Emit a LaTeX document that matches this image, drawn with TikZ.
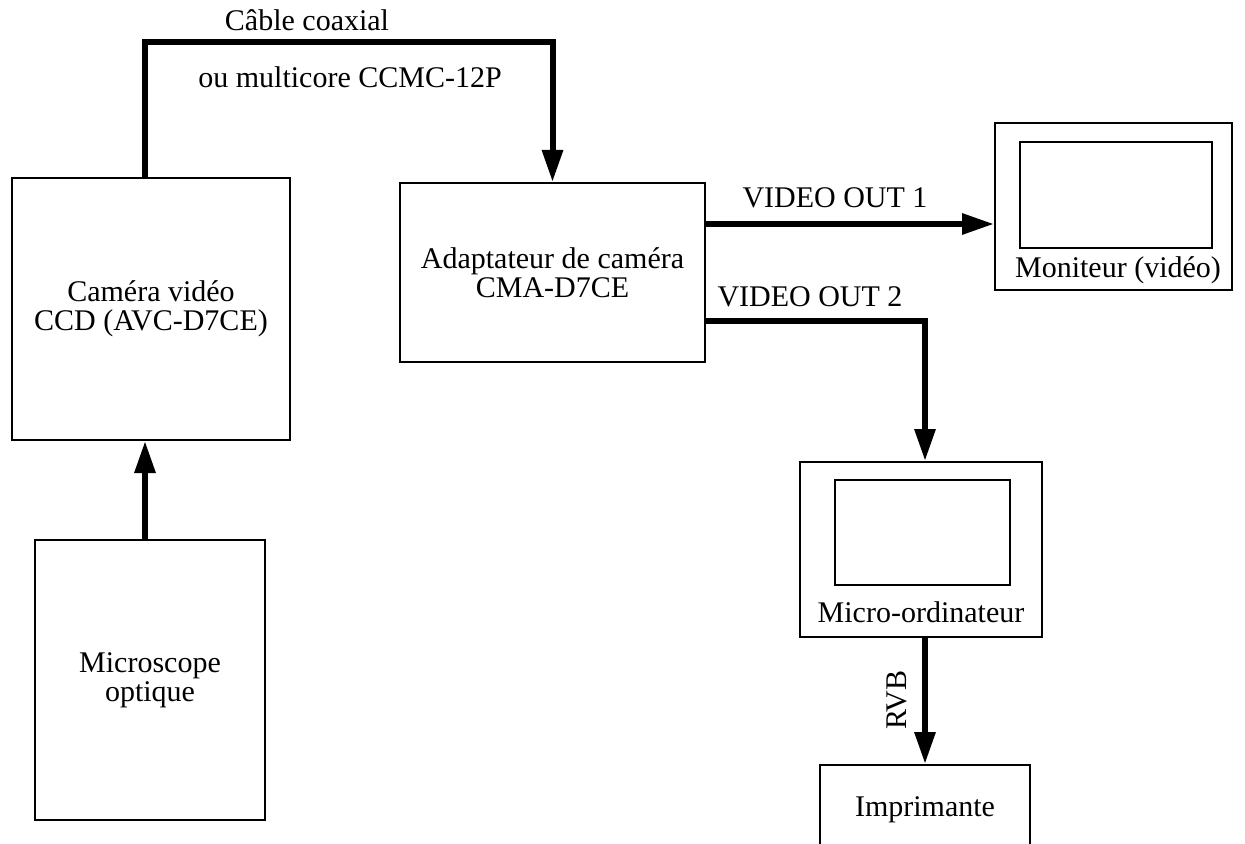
\documentclass[tikz,border=0pt]{standalone}
\usepackage{fontspec}
\setmainfont{Liberation Serif}
\usetikzlibrary{arrows.meta}
\begin{document}
\begin{tikzpicture}[x=0.5pt,y=-0.5pt,
  font=\fontsize{15}{14.5}\selectfont,
  box/.style={draw,line width=1pt,inner sep=0pt,align=center},
  lbl/.style={inner sep=0pt,align=center},
  wire/.style={line width=3pt,-{Triangle[width=10pt,length=16pt]}},
  bare/.style={line width=3pt}]
\useasboundingbox (0,0) rectangle (1245,844);
\clip (0,0) rectangle (1245,844);
% boxes
\node[box,minimum width=139pt,minimum height=131pt] (cam) at (151,309) {Caméra vidéo\\CCD (AVC-D7CE)};
\node[box,minimum width=115pt,minimum height=140pt] (mic) at (150,680) {Microscope\\optique};
\node[box,minimum width=152.5pt,minimum height=89.5pt] (adapt) at (552.5,272.5) {Adaptateur de caméra\\CMA-D7CE};
\node[box,minimum width=118.5pt,minimum height=83.5pt] (mon) at (1113.5,206.5) {};
\node[box,minimum width=96pt,minimum height=53pt] (monscr) at (1116,195) {};
\node[lbl] (monlbl) at (1118,270) {Moniteur (vidéo)};
\node[box,minimum width=121pt,minimum height=87.5pt] (pc) at (921,549.5) {};
\node[box,minimum width=87.5pt,minimum height=52.5pt] (pcscr) at (922.5,532.5) {};
\node[lbl] (pclbl) at (921,612) {Micro-ordinateur};
\node[box,minimum width=105pt,minimum height=50pt] (prn) at (925,815) {};
\node[lbl] (prnlbl) at (925,810) {Imprimante};
% helper coordinates
\coordinate (cab) at (145,42);
\coordinate (v1) at (0,224);
\coordinate (v2) at (925,321);
\coordinate (mv) at (145,0);
% connectors
\draw[wire] (mic.north -| mv) -- (cam.south -| mv);
\draw[wire] (cam.north -| cab) -- (cab) -| (adapt.north);
\draw[wire] (adapt.east |- v1) -- (mon.west |- v1);
\draw[wire] (adapt.east |- v2) -- (v2) -- (pc.north -| v2);
\draw[wire] (pc.south -| v2) -- (prn.north -| v2);
% labels
\node[lbl] (l1) at (307,20) {Câble coaxial};
\node[lbl] (l2) at (350,77) {ou multicore CCMC-12P};
\node[lbl] (l3) at (835,198) {VIDEO OUT 1};
\node[lbl] (l4) at (810,297) {VIDEO OUT 2};
\node[lbl,rotate=90] (l5) at (897,700) {RVB};
\end{tikzpicture}
\end{document}
